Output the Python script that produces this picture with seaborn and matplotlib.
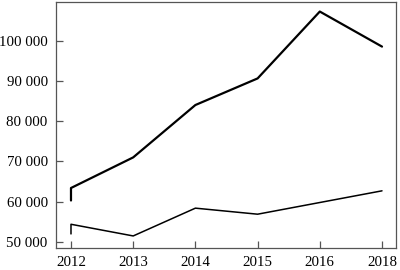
import matplotlib
matplotlib.use("Agg")
import matplotlib.pyplot as plt
import matplotlib.ticker as mticker
import seaborn as sns
import pandas as pd

categories = ["2012", "2013", "2014", "2015", "2016", "2018"]
years = ["2012", "2012", "2013", "2014", "2015", "2016", "2018"]
series_a = [60300, 63400, 71000, 84000, 90600, 107200, 98500]
series_b = [52000, 54400, 51500, 58400, 56900, 59800, 62700]
y_ticks = [50000, 60000, 70000, 80000, 90000, 100000]

sns.set_theme(style="white")
plt.rcParams["font.family"] = ["Liberation Serif", "DejaVu Serif"]

pos = [categories.index(y) for y in years]
df = pd.DataFrame({"x": pos + pos,
                   "value": series_a + series_b,
                   "series": ["a"] * len(pos) + ["b"] * len(pos)})

fig = plt.figure(figsize=(4.0, 2.7), dpi=100)
ax = fig.add_axes([0.14, 0.0815, 0.85, 0.912])

sns.lineplot(data=df[df.series == "a"], x="x", y="value", estimator=None,
             sort=False, color="black", linewidth=1.6, ax=ax)
sns.lineplot(data=df[df.series == "b"], x="x", y="value", estimator=None,
             sort=False, color="black", linewidth=1.1, ax=ax)

ax.set_xlim(-0.241, 5.225)
ax.set_ylim(48510, 109630)
ax.set_xticks(range(len(categories)))
ax.set_xticklabels(categories)
ax.set_yticks(y_ticks)
ax.yaxis.set_major_formatter(mticker.FuncFormatter(lambda v, p: f"{int(v):,}".replace(",", " ")))
ax.set_xlabel("")
ax.set_ylabel("")

for s in ax.spines.values():
    s.set_visible(True)
    s.set_color("#555555")
    s.set_linewidth(0.9)

ax.tick_params(axis="both", direction="in", length=5, width=0.9, color="#555555",
               labelsize=10.7, labelcolor="black")
ax.tick_params(axis="y", left=True, pad=6)
ax.tick_params(axis="x", bottom=True, pad=6)

fig.savefig("out.png", dpi=100)
